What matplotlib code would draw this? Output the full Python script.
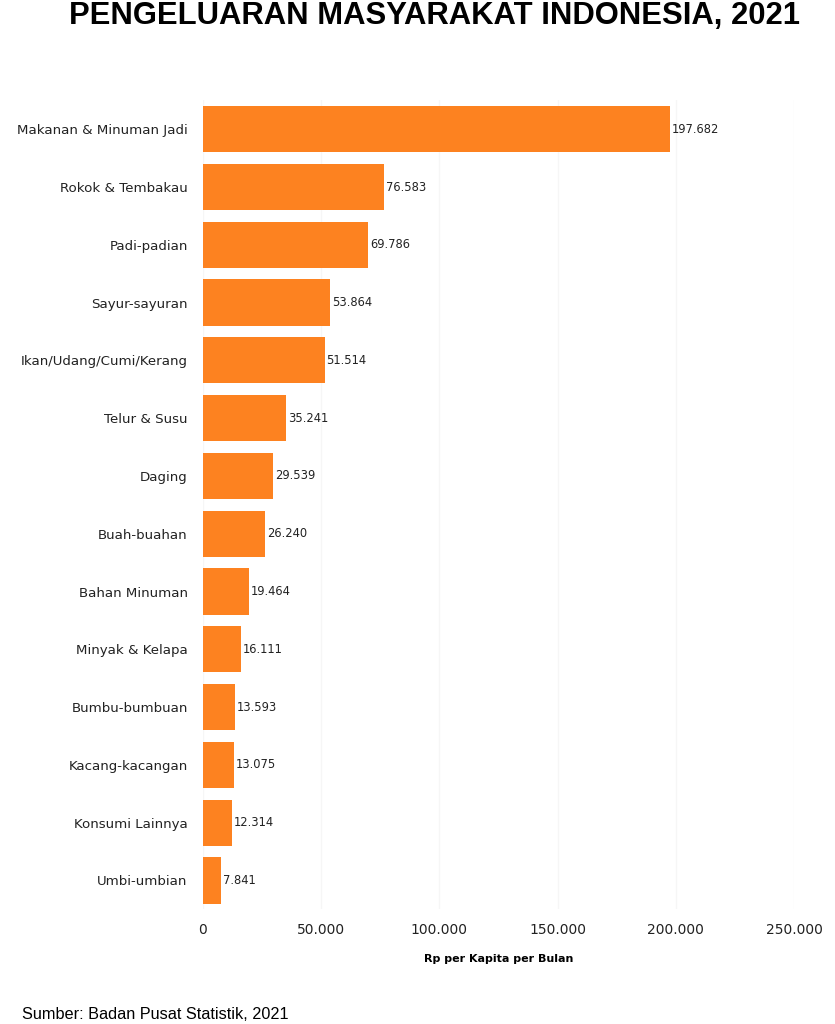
import matplotlib.pyplot as plt
from matplotlib.ticker import FuncFormatter

categories = ["Makanan & Minuman Jadi", "Rokok & Tembakau", "Padi-padian",
              "Sayur-sayuran", "Ikan/Udang/Cumi/Kerang", "Telur & Susu",
              "Daging", "Buah-buahan", "Bahan Minuman", "Minyak & Kelapa",
              "Bumbu-bumbuan", "Kacang-kacangan", "Konsumi Lainnya", "Umbi-umbian"]
values = [197682, 76583, 69786, 53864, 51514, 35241, 29539, 26240,
          19464, 16111, 13593, 13075, 12314, 7841]
x_ticks = [0, 50000, 100000, 150000, 200000, 250000]


def dotted(v, pos=None):
    return f"{int(v):,}".replace(",", ".")


fig = plt.figure(figsize=(8.35, 10.24), dpi=100)
ax = fig.add_axes([0.243, 0.112, 0.708, 0.79])

ypos = list(range(len(categories)))
ax.barh(ypos, values, height=0.8, color="#fd8220", zorder=2)
for y, v in zip(ypos, values):
    ax.text(v + 800, y, dotted(v), va="center", ha="left", fontsize=8.3, color="#222222")

ax.set_yticks(ypos)
ax.set_yticklabels(categories, fontsize=9.6, color="#222222")
ax.set_ylim(len(categories) - 0.5, -0.5)
ax.set_xlim(0, 250000)
ax.set_xticks(x_ticks)
ax.xaxis.set_major_formatter(FuncFormatter(dotted))
ax.tick_params(axis="x", labelsize=10, length=0, pad=10, colors="#222222")
ax.tick_params(axis="y", length=0, pad=11)
ax.grid(axis="x", color="#f6f6f6", linewidth=1, zorder=0)
for s in ax.spines.values():
    s.set_visible(False)

ax.set_xlabel("Rp per Kapita per Bulan", fontsize=8, fontweight="bold", labelpad=12)

fig.text(0.52, 0.984, "PENGELUARAN MASYARAKAT INDONESIA, 2021", ha="center", va="center",
         fontsize=22.3, fontweight="bold", family=["Liberation Sans", "DejaVu Sans"])
fig.text(0.026, 0.002, "Sumber: Badan Pusat Statistik, 2021", ha="left", va="bottom",
         fontsize=11.7, family=["Liberation Sans", "DejaVu Sans"])

fig.savefig("out.png", dpi=100)
